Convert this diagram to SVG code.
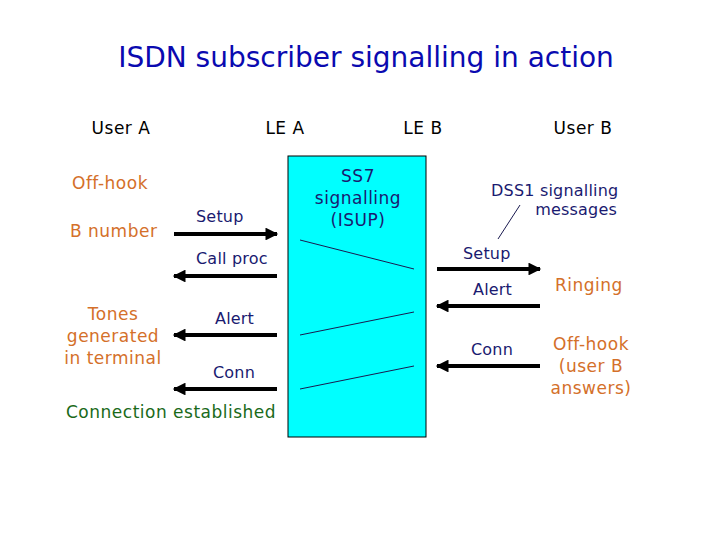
<svg xmlns="http://www.w3.org/2000/svg" width="720" height="540" viewBox="0 0 720 540">
<defs>
<marker id="ah" viewBox="0 0 10 10" refX="9" refY="5" markerWidth="3.4" markerHeight="3.2" orient="auto" markerUnits="strokeWidth"><path d="M0,0 L10,5 L0,10 z" fill="#000"/></marker>
<style>
text{font-family:"DejaVu Sans",Verdana,sans-serif}
.title{font-size:28px;fill:#0a0ab0;text-anchor:middle}
.hdr{font-size:17px;letter-spacing:0.5px;fill:#000;text-anchor:middle}
.ev{font-size:17px;letter-spacing:0.5px;fill:#d4702a}
.msg{font-size:16px;letter-spacing:0.2px;fill:#1a1a70}
.big{font-size:17px;letter-spacing:0.5px;text-anchor:middle}
.ok{font-size:17px;letter-spacing:0.5px;fill:#1a6a1a}
.arr{stroke:#000;stroke-width:4;fill:none;marker-end:url(#ah)}
.thin{stroke:#1a1a50;stroke-width:1;fill:none}
</style>
</defs>
<rect width="720" height="540" fill="#fff"/>
<text class="title" x="366" y="67">ISDN subscriber signalling in action</text>
<g id="userA"><text class="hdr" x="121" y="134">User A</text></g>
<g id="leA"><text class="hdr" x="285" y="134">LE A</text></g>
<g id="leB"><text class="hdr" x="423" y="134">LE B</text></g>
<g id="userB"><text class="hdr" x="583" y="134">User B</text></g>
<g id="ss7">
<rect x="288" y="156" width="138" height="281" fill="#00ffff" stroke="#000" stroke-width="1"/>
<text class="msg big" x="358" y="182">SS7</text>
<text class="msg big" x="358" y="204">signalling</text>
<text class="msg big" x="358" y="226">(ISUP)</text>
</g>
<g id="labelsA">
<text class="ev" x="72" y="189">Off-hook</text>
<text class="ev" x="70" y="237">B number</text>
<text class="ev" x="113" y="320" text-anchor="middle">Tones</text>
<text class="ev" x="113" y="342" text-anchor="middle">generated</text>
<text class="ev" x="113" y="364" text-anchor="middle">in terminal</text>
<text class="ok" x="66" y="418">Connection established</text>
</g>
<g id="labelsB">
<text class="msg" x="491" y="196">DSS1 signalling</text>
<text class="msg" x="617" y="215" text-anchor="end">messages</text>
<text class="ev" x="555" y="291">Ringing</text>
<text class="ev" x="591" y="350" text-anchor="middle">Off-hook</text>
<text class="ev" x="591" y="372" text-anchor="middle">(user B</text>
<text class="ev" x="591" y="394" text-anchor="middle">answers)</text>
</g>
<g id="connectors">
<line class="arr" x1="174" y1="234" x2="277" y2="234"/>
<text class="msg" x="196" y="222">Setup</text>
<line class="arr" x1="277" y1="276" x2="174" y2="276"/>
<text class="msg" x="196" y="264">Call proc</text>
<line class="arr" x1="277" y1="335" x2="174" y2="335"/>
<text class="msg" x="215" y="324">Alert</text>
<line class="arr" x1="277" y1="389" x2="174" y2="389"/>
<text class="msg" x="213" y="378">Conn</text>
<line class="thin" x1="300" y1="240" x2="414" y2="269"/>
<line class="thin" x1="300" y1="335" x2="414" y2="312"/>
<line class="thin" x1="300" y1="389" x2="414" y2="366"/>
<line class="arr" x1="437" y1="269" x2="540" y2="269"/>
<text class="msg" x="463" y="259">Setup</text>
<line class="arr" x1="540" y1="306" x2="437" y2="306"/>
<text class="msg" x="473" y="295">Alert</text>
<line class="arr" x1="540" y1="366" x2="437" y2="366"/>
<text class="msg" x="471" y="355">Conn</text>
<line class="thin" x1="498" y1="239" x2="520" y2="205"/>
</g>
</svg>
